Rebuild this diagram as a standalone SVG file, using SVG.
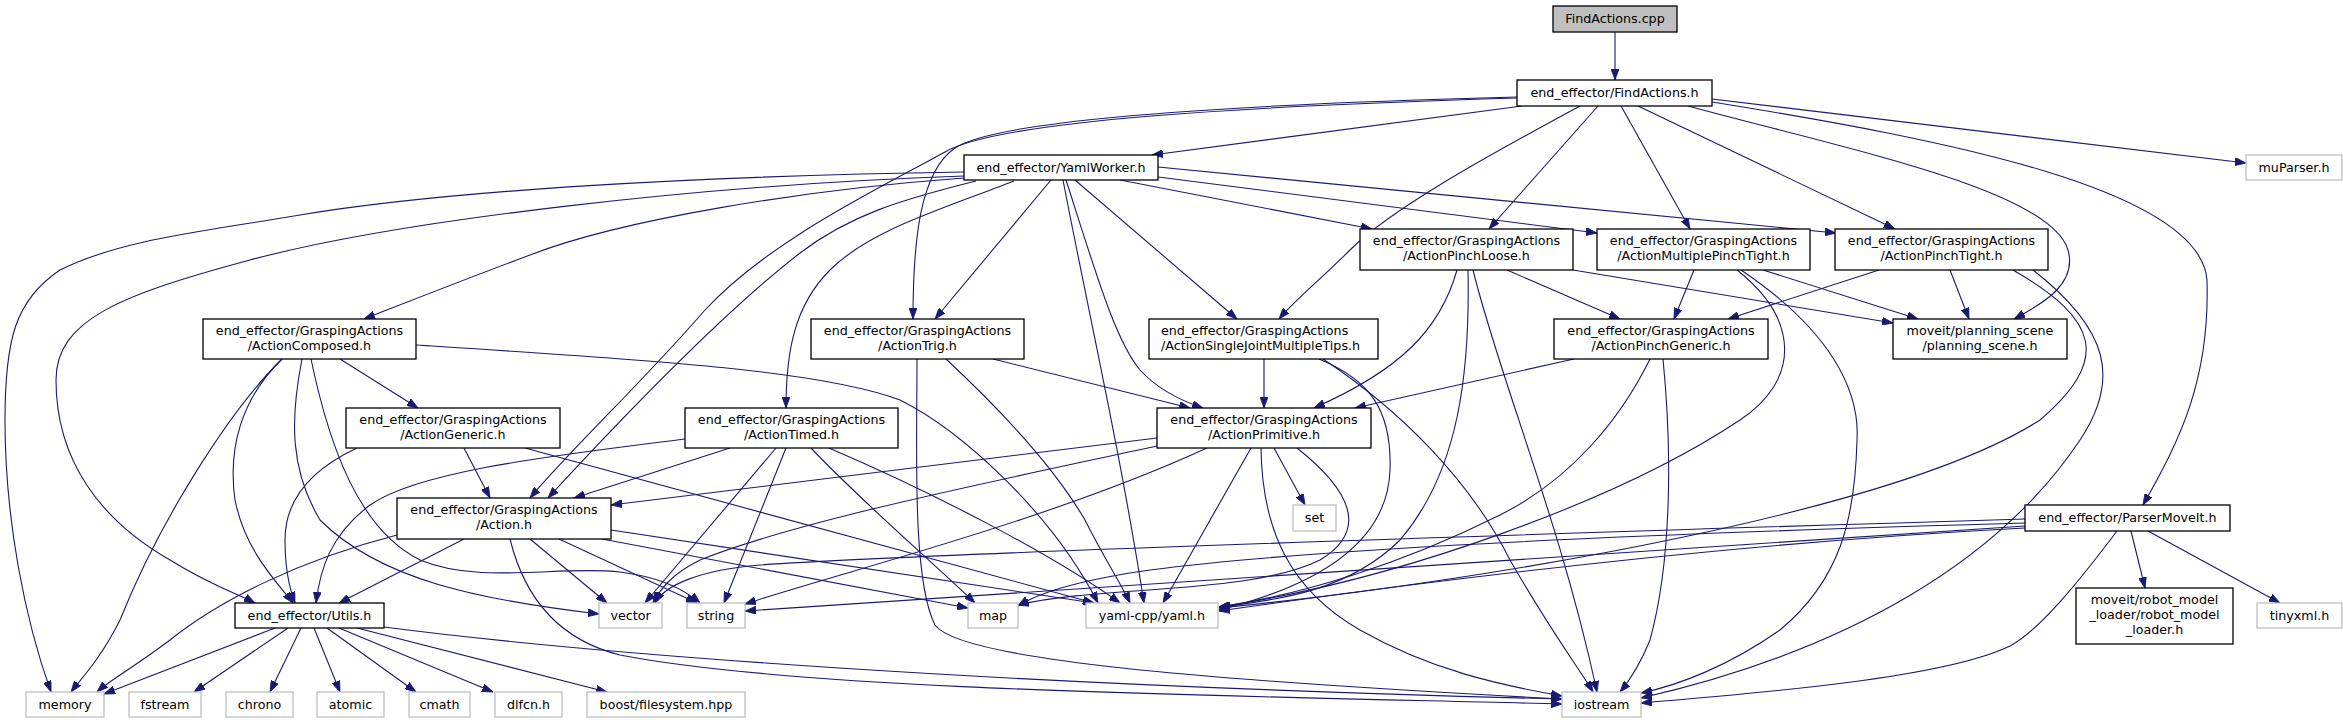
<svg xmlns="http://www.w3.org/2000/svg" width="2343" height="723" viewBox="0 0 2343 723">
<style>
.n rect{fill:#fff;stroke:#000;stroke-width:1.3}
.g rect{fill:#fff;stroke:#bfbfbf;stroke-width:1.3}
.r rect{fill:#bfbfbf;stroke:#000;stroke-width:1.3}
text{font-family:"DejaVu Sans","Liberation Sans",sans-serif;font-size:12.7px;fill:#000;text-anchor:middle}
#edges path{fill:none;stroke:#191970;stroke-width:1.1;marker-end:url(#a)}
</style>
<defs>
<marker id="a" markerUnits="userSpaceOnUse" viewBox="0 0 11 8" refX="11" refY="4" markerWidth="11" markerHeight="8" orient="auto">
<path d="M0,0 L11,4 L0,8 z" fill="#191970" stroke="#191970" stroke-width="0.8"/>
</marker>
</defs>
<rect width="2343" height="723" fill="#fff"/>
<g id="edges">
<path d="M1615,32 L1615,80"/>
<path d="M1522,106 L1152,155"/>
<path d="M1517,97 C1250,104 1000,118 955,148 C920,172 913,240 913,319"/>
<path d="M1517,98 C1250,106 1000,120 945,152 C880,188 770,240 705,310 C640,385 570,450 530,498"/>
<path d="M1580,106 C1480,160 1390,210 1350,250 C1320,280 1295,300 1279,319"/>
<path d="M1598,106 L1489,229"/>
<path d="M1621,106 L1690,229"/>
<path d="M1638,106 L1895,229"/>
<path d="M1688,106 C1850,150 2050,190 2068,250 C2078,285 2040,305 2014,319"/>
<path d="M1712,99 L2246,163"/>
<path d="M1712,102 C1950,140 2200,190 2207,280 C2210,380 2180,440 2143,505"/>
<path d="M964,172 C700,176 450,190 300,215 C200,232 120,240 60,270 C15,300 5,340 5,420 C5,520 25,620 51,692"/>
<path d="M964,176 C700,185 400,220 250,260 C120,295 56,320 56,380 C56,460 100,520 170,560 C210,585 240,595 255,603"/>
<path d="M964,178 C800,190 620,220 530,255 C450,285 400,305 364,319"/>
<path d="M976,181 C900,200 850,215 800,253 C720,315 620,420 548,498"/>
<path d="M1014,181 C940,210 870,230 830,270 C795,305 786,350 786,408"/>
<path d="M1051,180 L935,319"/>
<path d="M1063,180 C1090,320 1120,450 1144,603"/>
<path d="M1066,180 C1095,270 1115,340 1140,370 C1160,392 1185,402 1203,408"/>
<path d="M1075,180 L1237,319"/>
<path d="M1120,180 L1372,229"/>
<path d="M1158,177 L1597,233"/>
<path d="M1158,167 L1836,233"/>
<path d="M282,359 C230,410 160,520 120,620 C100,660 80,680 71,692"/>
<path d="M282,359 C240,400 228,450 235,500 C245,550 275,580 293,603"/>
<path d="M302,359 C290,420 290,470 320,520 C380,580 480,600 599,614"/>
<path d="M311,359 C330,450 360,530 420,560 C480,585 560,565 620,572 C660,577 685,590 700,603"/>
<path d="M340,359 L418,408"/>
<path d="M416,345 C650,360 820,370 900,400 C960,430 1050,510 1098,603"/>
<path d="M917,359 C917,450 912,580 935,625 C960,660 1200,680 1562,699"/>
<path d="M993,359 L1190,408"/>
<path d="M946,359 C990,400 1050,460 1085,520 C1105,560 1122,585 1130,603"/>
<path d="M1264,359 L1264,408"/>
<path d="M1319,359 C1370,380 1392,410 1390,470 C1388,530 1340,580 1219,610"/>
<path d="M1323,359 C1400,410 1470,480 1510,560 C1550,630 1580,670 1593,692"/>
<path d="M1473,270 C1500,380 1560,520 1597,692"/>
<path d="M1457,270 C1440,330 1400,370 1314,408"/>
<path d="M1468,270 C1470,370 1460,470 1400,540 C1350,590 1280,600 1219,607"/>
<path d="M1507,270 L1620,319"/>
<path d="M1573,270 L1893,323"/>
<path d="M1694,270 L1674,319"/>
<path d="M1763,270 L1918,319"/>
<path d="M1737,270 C1800,320 1800,380 1740,420 C1620,500 1400,580 1219,607"/>
<path d="M1741,270 C1830,330 1860,390 1857,440 C1855,520 1840,580 1780,630 C1730,665 1680,685 1641,693"/>
<path d="M1879,270 L1728,319"/>
<path d="M1950,270 L1969,319"/>
<path d="M2013,270 C2100,320 2110,360 2040,420 C1900,510 1500,580 1219,608"/>
<path d="M2033,270 C2110,330 2120,380 2080,440 C2000,560 1850,650 1641,698"/>
<path d="M1574,359 L1355,408"/>
<path d="M1650,359 C1620,420 1570,480 1500,515 C1400,565 1300,595 1219,607"/>
<path d="M1663,359 C1672,450 1672,560 1650,640 C1640,665 1630,680 1620,692"/>
<path d="M464,448 L490,498"/>
<path d="M357,448 C310,470 285,500 285,540 C285,570 290,590 295,603"/>
<path d="M525,448 L1094,603"/>
<path d="M730,448 L574,498"/>
<path d="M685,439 C560,455 420,470 370,505 C330,535 320,570 316,603"/>
<path d="M776,448 L645,603"/>
<path d="M786,448 L724,603"/>
<path d="M811,448 C860,500 930,560 975,603"/>
<path d="M829,448 C950,500 1060,560 1120,603"/>
<path d="M1157,438 L611,505"/>
<path d="M1157,446 C1000,480 800,520 700,560 C670,575 660,590 653,603"/>
<path d="M1207,448 C1050,520 850,570 745,604"/>
<path d="M1274,448 L1305,505"/>
<path d="M1251,448 L1163,603"/>
<path d="M1261,448 C1262,530 1290,590 1360,630 C1430,670 1500,685 1562,696"/>
<path d="M1297,448 C1350,490 1370,530 1320,560 C1250,595 1100,585 1018,605"/>
<path d="M464,539 L339,603"/>
<path d="M397,535 C300,560 220,600 170,640 C130,670 110,680 97,692"/>
<path d="M530,539 L607,603"/>
<path d="M559,539 L697,603"/>
<path d="M510,539 C525,600 560,640 620,655 C800,690 1200,695 1562,704"/>
<path d="M602,539 L968,608"/>
<path d="M611,530 L1094,603"/>
<path d="M275,628 L104,694"/>
<path d="M288,628 L194,692"/>
<path d="M301,628 L270,692"/>
<path d="M314,628 L340,692"/>
<path d="M327,628 L416,692"/>
<path d="M339,628 L493,692"/>
<path d="M357,628 L607,692"/>
<path d="M384,627 C600,655 1000,685 1562,699"/>
<path d="M2131,531 L2145,588"/>
<path d="M2148,531 L2280,603"/>
<path d="M2117,531 C2080,580 2040,630 2010,646 C1950,675 1800,690 1641,703"/>
<path d="M2025,519 C1500,535 900,555 760,565 C700,570 665,585 655,603"/>
<path d="M2025,526 L745,611"/>
<path d="M2025,523 C1600,535 1300,550 1150,570 C1080,580 1040,592 1018,606"/>
<path d="M2025,528 C1700,545 1400,585 1219,611"/>
</g>
<g id="n_cpp" class="r"><rect x="1553" y="6" width="124" height="26"/><text x="1615" y="23">FindActions.cpp</text></g>
<g id="n_fah" class="n"><rect x="1517" y="80" width="195" height="26"/><text x="1614.5" y="97">end_effector/FindActions.h</text></g>
<g id="n_yw" class="n"><rect x="964" y="155" width="194" height="25"/><text x="1061" y="172">end_effector/YamlWorker.h</text></g>
<g id="n_mu" class="g"><rect x="2246" y="155" width="96" height="25"/><text x="2294" y="172">muParser.h</text></g>
<g id="n_pl" class="n"><rect x="1360" y="229" width="213" height="41"/><text x="1466.5" y="245">end_effector/GraspingActions</text><text x="1466.5" y="260">/ActionPinchLoose.h</text></g>
<g id="n_mpt" class="n"><rect x="1597" y="229" width="213" height="41"/><text x="1703.5" y="245">end_effector/GraspingActions</text><text x="1703.5" y="260">/ActionMultiplePinchTight.h</text></g>
<g id="n_pt" class="n"><rect x="1835" y="229" width="213" height="41"/><text x="1941.5" y="245">end_effector/GraspingActions</text><text x="1941.5" y="260">/ActionPinchTight.h</text></g>
<g id="n_ac" class="n"><rect x="203" y="319" width="213" height="40"/><text x="309.5" y="335">end_effector/GraspingActions</text><text x="309.5" y="350">/ActionComposed.h</text></g>
<g id="n_atr" class="n"><rect x="811" y="319" width="213" height="40"/><text x="917.5" y="335">end_effector/GraspingActions</text><text x="917.5" y="350">/ActionTrig.h</text></g>
<g id="n_sj" class="n"><rect x="1149" y="319" width="229" height="40"/><text x="1161" y="335" style="text-anchor:start">end_effector/GraspingActions</text><text x="1161" y="350" style="text-anchor:start">/ActionSingleJointMultipleTips.h</text></g>
<g id="n_pg" class="n"><rect x="1554" y="319" width="214" height="40"/><text x="1661" y="335">end_effector/GraspingActions</text><text x="1661" y="350">/ActionPinchGeneric.h</text></g>
<g id="n_ps" class="n"><rect x="1893" y="319" width="174" height="40"/><text x="1980" y="335">moveit/planning_scene</text><text x="1980" y="350">/planning_scene.h</text></g>
<g id="n_ag" class="n"><rect x="346" y="408" width="214" height="40"/><text x="453" y="424">end_effector/GraspingActions</text><text x="453" y="439">/ActionGeneric.h</text></g>
<g id="n_atm" class="n"><rect x="685" y="408" width="213" height="40"/><text x="791.5" y="424">end_effector/GraspingActions</text><text x="791.5" y="439">/ActionTimed.h</text></g>
<g id="n_ap" class="n"><rect x="1157" y="408" width="214" height="40"/><text x="1264" y="424">end_effector/GraspingActions</text><text x="1264" y="439">/ActionPrimitive.h</text></g>
<g id="n_ah" class="n"><rect x="397" y="498" width="214" height="41"/><text x="504" y="514">end_effector/GraspingActions</text><text x="504" y="529">/Action.h</text></g>
<g id="n_set" class="g"><rect x="1293" y="505" width="43" height="26"/><text x="1314.5" y="522">set</text></g>
<g id="n_pm" class="n"><rect x="2025" y="505" width="205" height="26"/><text x="2127.5" y="522">end_effector/ParserMoveIt.h</text></g>
<g id="n_ut" class="n"><rect x="235" y="603" width="149" height="25"/><text x="309.5" y="620">end_effector/Utils.h</text></g>
<g id="n_vec" class="g"><rect x="599" y="603" width="63" height="25"/><text x="630.5" y="620">vector</text></g>
<g id="n_str" class="g"><rect x="687" y="603" width="58" height="25"/><text x="716" y="620">string</text></g>
<g id="n_map" class="g"><rect x="968" y="603" width="50" height="25"/><text x="993" y="620">map</text></g>
<g id="n_yaml" class="g"><rect x="1086" y="603" width="132" height="25"/><text x="1152" y="620">yaml-cpp/yaml.h</text></g>
<g id="n_rml" class="n"><rect x="2076" y="588" width="157" height="56"/><text x="2154.5" y="604">moveit/robot_model</text><text x="2154.5" y="619">_loader/robot_model</text><text x="2154.5" y="634">_loader.h</text></g>
<g id="n_tx" class="g"><rect x="2257" y="603" width="85" height="25"/><text x="2299.5" y="620">tinyxml.h</text></g>
<g id="n_mem" class="g"><rect x="26" y="692" width="78" height="25"/><text x="65" y="709">memory</text></g>
<g id="n_fs" class="g"><rect x="129" y="692" width="72" height="25"/><text x="165" y="709">fstream</text></g>
<g id="n_ch" class="g"><rect x="226" y="692" width="67" height="25"/><text x="259.5" y="709">chrono</text></g>
<g id="n_at" class="g"><rect x="317" y="692" width="67" height="25"/><text x="350.5" y="709">atomic</text></g>
<g id="n_cm" class="g"><rect x="409" y="692" width="61" height="25"/><text x="439.5" y="709">cmath</text></g>
<g id="n_dl" class="g"><rect x="495" y="692" width="67" height="25"/><text x="528.5" y="709">dlfcn.h</text></g>
<g id="n_bo" class="g"><rect x="587" y="692" width="158" height="25"/><text x="666" y="709">boost/filesystem.hpp</text></g>
<g id="n_io" class="g"><rect x="1562" y="692" width="79" height="25"/><text x="1601.5" y="709">iostream</text></g>
</svg>
